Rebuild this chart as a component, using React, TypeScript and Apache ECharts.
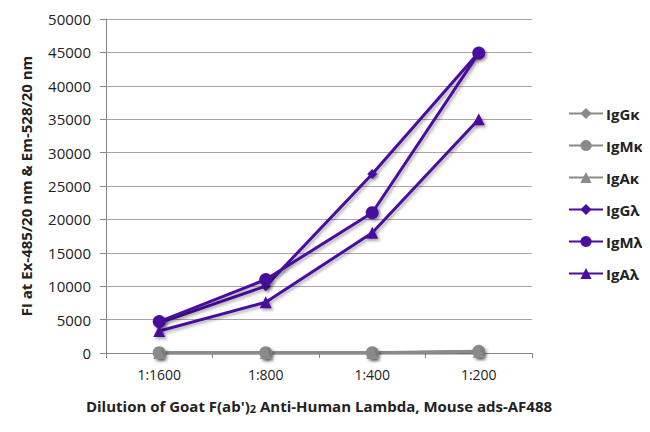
import React, { useEffect, useRef } from "react";
import * as echarts from "echarts";

const categories = ["1:1600", "1:800", "1:400", "1:200"];
const seriesNames = ["IgGκ", "IgMκ", "IgAκ", "IgGλ", "IgMλ", "IgAλ"];
const igGk = [0, 0, 0, 200];
const igMk = [50, 50, 50, 250];
const igAk = [0, 0, 0, 200];
const igGl = [4500, 10000, 26800, 45000];
const igMl = [4700, 11000, 21000, 44900];
const igAl = [3300, 7600, 18000, 35000];
const yTicks = { min: 0, max: 50000, interval: 5000 };

const GRAY = "#8a8a8a";
const PURPLE = "#4a0e9e";
const FONT = "'Open Sans', 'Noto Sans', sans-serif";

export default function App() {
  const ref = useRef<HTMLDivElement>(null);
  useEffect(() => {
    const chart = echarts.init(ref.current!, null, { renderer: "svg" });
    const data = [igGk, igMk, igAk, igGl, igMl, igAl];
    const symbols = ["diamond", "circle", "triangle", "diamond", "circle", "triangle"];
    const sizes = [10, 13, 12, 10, 13, 12];
    const series = data.map((d, i) => {
      const color = i < 3 ? GRAY : PURPLE;
      return {
        name: seriesNames[i],
        type: "line",
        data: d,
        symbol: symbols[i],
        symbolSize: sizes[i],
        z: i < 3 ? 2 : 3,
        lineStyle: {
          color,
          width: 3,
          shadowColor: "rgba(0,0,0,0.3)",
          shadowBlur: 3,
          shadowOffsetX: 2,
          shadowOffsetY: 2,
        },
        itemStyle: {
          color,
          shadowColor: "rgba(0,0,0,0.35)",
          shadowBlur: 3,
          shadowOffsetX: 2,
          shadowOffsetY: 2,
        },
        emphasis: { disabled: true },
      };
    });
    chart.setOption({
      animation: false,
      textStyle: { fontFamily: FONT },
      grid: { left: 106, right: 118, top: 19, bottom: 79, containLabel: false },
      legend: {
        orient: "vertical",
        left: 563,
        top: 101,
        itemWidth: 34,
        itemHeight: 14,
        itemGap: 17,
        data: seriesNames,
        textStyle: { fontFamily: FONT, fontSize: 15, lineHeight: 14, fontWeight: "bold", color: "#222", padding: [0, 0, 0, -2] },
      },
      xAxis: {
        type: "category",
        data: categories,
        boundaryGap: true,
        name: "{b|Dilution of Goat F(ab')}{s|2}{b| Anti-Human Lambda, Mouse ads-AF488}",
        nameLocation: "middle",
        nameGap: 44,
        nameTextStyle: {
          rich: {
            b: { fontFamily: FONT, fontSize: 15, fontWeight: "bold", color: "#222" },
            s: { fontFamily: FONT, fontSize: 11, fontWeight: "bold", color: "#222", padding: [6, 0, 0, 0] },
          },
        },
        axisLine: { lineStyle: { color: "#888", width: 1 } },
        axisTick: { show: true, length: 5, inside: false, lineStyle: { color: "#888" } },
        axisLabel: { fontFamily: FONT, fontSize: 14, color: "#222", margin: 14 },
        splitLine: { show: false },
      },
      yAxis: {
        type: "value",
        min: yTicks.min,
        max: yTicks.max,
        interval: yTicks.interval,
        name: "FI at Ex-485/20 nm & Em-528/20 nm",
        nameLocation: "middle",
        nameGap: 73,
        nameTextStyle: { fontFamily: FONT, fontSize: 15, fontWeight: "bold", color: "#222" },
        axisLine: { show: true, lineStyle: { color: "#888", width: 1 } },
        axisTick: { show: true, length: 6, inside: false, lineStyle: { color: "#888" } },
        axisLabel: { fontFamily: FONT, fontSize: 15, color: "#222", margin: 15, formatter: (v: number) => String(v) },
        splitLine: { show: true, lineStyle: { color: "#a6a6a6", width: 1 } },
      },
      series,
    });
    return () => chart.dispose();
  }, []);
  return <div ref={ref} style={{ width: 650, height: 432, margin: -8 }} />;
}
